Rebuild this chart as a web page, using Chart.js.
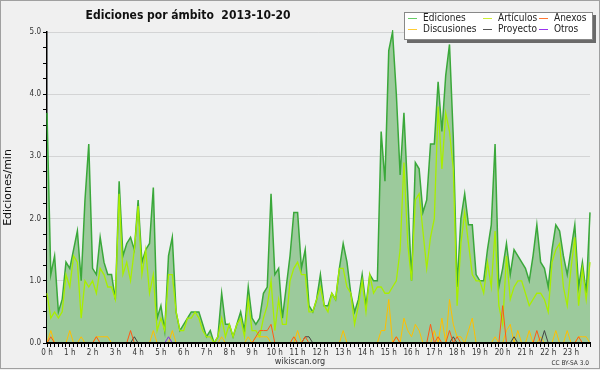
<!DOCTYPE html>
<html>
<head>
<meta charset="utf-8">
<script src="https://cdn.jsdelivr.net/npm/chart.js@4.4.0/dist/chart.umd.min.js"></script>
<style>
  body { margin: 0; background: #f0f0f0; }
  #wrap { width: 600px; height: 370px; }
</style>
</head>
<body>
<div id="wrap"><canvas id="myChart" width="600" height="370"></canvas></div>
<script>
// Ediciones por ámbito - 2013-10-20, one value every 10 minutes (edits/min)

const ediciones = [
  3.7, 1.1, 1.4, 0.5, 0.7, 1.3, 1.2, 1.5, 1.8, 1.0,
  2.3, 3.2, 1.2, 1.1, 1.7, 1.3, 1.1, 1.1, 0.7, 2.6,
  1.4, 1.6, 1.7, 1.5, 2.3, 1.3, 1.5, 1.6, 2.5, 0.4,
  0.6, 0.2, 1.4, 1.7, 0.5, 0.2, 0.3, 0.4, 0.5, 0.5,
  0.5, 0.3, 0.1, 0.2, 0.0, 0.1, 0.8, 0.3, 0.3, 0.1,
  0.3, 0.5, 0.2, 0.9, 0.4, 0.3, 0.4, 0.8, 0.9, 2.4,
  1.1, 1.2, 0.4, 0.9, 1.4, 2.1, 2.1, 1.2, 1.5, 0.6,
  0.5, 0.7, 1.1, 0.6, 0.6, 0.8, 0.7, 1.2, 1.6, 1.3,
  0.8, 0.5, 0.7, 1.1, 0.6, 1.1, 1.0, 1.0, 3.4, 2.6,
  4.7, 5.0, 4.0, 2.7, 3.7, 2.4, 1.0, 2.9, 2.8, 2.1,
  2.3, 3.2, 3.2, 4.2, 3.4, 4.3, 4.8, 3.3, 0.9, 2.0,
  2.4, 1.9, 1.9, 1.1, 1.0, 1.0, 1.5, 1.9, 3.2, 0.9,
  1.2, 1.6, 1.1, 1.5, 1.4, 1.3, 1.2, 1.0, 1.4, 1.9,
  1.3, 1.2, 0.9, 1.5, 1.9, 1.8, 1.4, 1.1, 1.5, 1.9,
  0.9, 1.3, 0.8, 2.1
];

const articulos = [
  0.8, 0.4, 0.5, 0.4, 0.5, 1.1, 0.9, 1.4, 1.3, 0.4,
  1.0, 0.9, 1.0, 0.8, 1.2, 1.1, 0.9, 0.9, 0.7, 2.4,
  1.1, 1.3, 1.0, 1.5, 2.2, 1.1, 1.5, 0.8, 1.1, 0.2,
  0.4, 0.2, 1.1, 1.1, 0.5, 0.2, 0.2, 0.4, 0.4, 0.5,
  0.4, 0.2, 0.1, 0.1, 0.0, 0.1, 0.4, 0.1, 0.3, 0.1,
  0.3, 0.4, 0.1, 0.7, 0.2, 0.2, 0.1, 0.4, 0.6, 1.0,
  0.2, 0.7, 0.3, 0.3, 1.0, 1.2, 1.3, 1.1, 1.1, 0.5,
  0.5, 0.7, 0.9, 0.6, 0.5, 0.8, 0.7, 1.2, 1.2, 0.9,
  0.8, 0.3, 0.6, 1.0, 0.5, 1.1, 0.8, 0.9, 0.9, 0.8,
  0.8, 0.9, 1.0, 1.5, 2.9, 1.6, 1.0, 2.3, 2.4, 1.8,
  1.2, 1.7, 2.0, 3.8, 2.8, 3.7, 3.4, 2.8, 0.6, 1.6,
  2.1, 1.6, 1.1, 1.0, 1.0, 0.8, 1.3, 0.9, 1.8, 0.6,
  0.3, 1.4, 0.7, 0.9, 1.0, 1.0, 0.8, 0.6, 0.7, 0.8,
  0.8, 0.7, 0.5, 1.3, 1.5, 1.6, 0.9, 0.6, 1.2, 1.7,
  0.6, 1.2, 0.7, 1.3
];

const anexos = [
  0, 0.1, 0, 0, 0, 0, 0, 0, 0, 0,
  0, 0, 0, 0.1, 0, 0, 0, 0, 0, 0,
  0, 0, 0.2, 0, 0, 0, 0, 0, 0, 0,
  0, 0, 0, 0, 0, 0, 0, 0, 0, 0,
  0, 0, 0, 0, 0, 0, 0, 0, 0, 0,
  0, 0, 0, 0, 0, 0.1, 0.2, 0.2, 0.2, 0.3,
  0, 0, 0, 0, 0, 0.1, 0, 0, 0.1, 0,
  0, 0, 0, 0, 0, 0, 0, 0, 0, 0,
  0, 0, 0, 0, 0, 0, 0, 0, 0, 0,
  0, 0, 0.1, 0, 0, 0, 0, 0, 0, 0,
  0, 0.3, 0, 0.1, 0, 0, 0.2, 0, 0.1, 0,
  0, 0, 0, 0, 0, 0, 0, 0, 0, 0,
  0.6, 0, 0, 0, 0, 0, 0, 0, 0, 0.2,
  0, 0, 0, 0, 0, 0, 0, 0, 0, 0,
  0.1, 0, 0, 0
];

const discusiones = [
  0, 0.2, 0, 0, 0, 0, 0.2, 0, 0, 0.1,
  0, 0, 0, 0.1, 0.1, 0.1, 0.1, 0, 0, 0,
  0, 0, 0, 0, 0, 0, 0, 0, 0.2, 0,
  0, 0, 0, 0.2, 0, 0, 0, 0, 0, 0,
  0, 0, 0, 0, 0, 0, 0.1, 0, 0, 0,
  0, 0, 0, 0.1, 0, 0.1, 0.1, 0.1, 0.1, 0,
  0, 0, 0, 0, 0, 0, 0.2, 0, 0, 0,
  0, 0, 0, 0, 0, 0, 0, 0, 0.2, 0,
  0, 0, 0, 0, 0, 0, 0, 0, 0.2, 0.2,
  0.7, 0, 0.1, 0, 0.4, 0.2, 0.1, 0.3, 0.2, 0,
  0, 0, 0.2, 0, 0.4, 0, 0.7, 0.3, 0.1, 0.1,
  0, 0.2, 0.4, 0, 0, 0, 0, 0, 0.1, 0,
  0, 0.2, 0.3, 0, 0.2, 0, 0, 0.2, 0, 0,
  0.1, 0, 0, 0, 0.2, 0, 0, 0.2, 0, 0,
  0.1, 0.1, 0.1, 0
];

const proyecto = [
  0, 0, 0, 0, 0, 0, 0, 0, 0, 0,
  0, 0, 0, 0, 0, 0, 0, 0, 0, 0,
  0, 0, 0, 0.1, 0, 0, 0, 0, 0, 0,
  0, 0, 0, 0, 0, 0, 0, 0, 0, 0,
  0, 0, 0, 0, 0, 0, 0, 0, 0, 0,
  0, 0, 0, 0, 0, 0, 0, 0, 0, 0,
  0, 0, 0, 0, 0, 0, 0, 0, 0.1, 0.1,
  0, 0, 0, 0, 0, 0, 0, 0, 0, 0,
  0, 0, 0, 0, 0, 0, 0, 0, 0, 0,
  0, 0, 0, 0, 0, 0, 0, 0, 0, 0,
  0, 0, 0, 0, 0, 0, 0, 0.1, 0, 0,
  0, 0, 0, 0, 0, 0, 0, 0, 0, 0,
  0, 0, 0, 0.1, 0, 0, 0, 0, 0, 0,
  0, 0.2, 0, 0, 0, 0, 0, 0, 0, 0,
  0, 0, 0, 0
];

const otros = [
  0, 0, 0, 0, 0, 0, 0, 0, 0, 0,
  0, 0, 0, 0, 0, 0, 0, 0, 0, 0,
  0, 0, 0, 0, 0, 0, 0, 0, 0, 0,
  0, 0, 0.1, 0, 0, 0, 0, 0, 0, 0,
  0, 0, 0, 0, 0, 0, 0, 0, 0, 0,
  0, 0, 0, 0, 0, 0, 0, 0, 0, 0,
  0, 0, 0, 0, 0, 0, 0, 0, 0, 0,
  0, 0, 0, 0, 0, 0, 0, 0, 0, 0,
  0, 0, 0, 0, 0, 0, 0, 0, 0, 0,
  0, 0, 0, 0, 0, 0, 0, 0, 0, 0,
  0, 0, 0, 0, 0, 0, 0, 0, 0, 0,
  0, 0, 0, 0, 0, 0, 0, 0, 0, 0,
  0, 0, 0, 0, 0, 0, 0, 0, 0, 0,
  0, 0, 0, 0, 0, 0, 0, 0, 0, 0,
  0, 0, 0, 0
];

// x-axis categories: 00:00, 00:10, ... 23:50
const horas = [];
for (let h = 0; h < 24; h++) {
    for (let m = 0; m < 60; m += 10) {
        horas.push(String(h).padStart(2, '0') + ':' + String(m).padStart(2, '0'));
    }
}

const titulo = 'Ediciones por ámbito  2013-10-20';
const ejeY = 'Ediciones/min';
const fuente = 'wikiscan.org';
const licencia = 'CC BY-SA 3.0';

const familia = '"DejaVu Sans Condensed", "DejaVu Sans", sans-serif';

// background, frame, title, footer and the boxed legend
const marco = {
    id: 'marco',
    beforeDraw(chart) {
        const {ctx, chartArea: a} = chart;
        ctx.save();
        ctx.fillStyle = '#f0f0f0';
        ctx.fillRect(0, 0, chart.width, chart.height);
        ctx.fillStyle = '#eef0f1';
        ctx.fillRect(a.left, a.top, a.right - a.left, a.bottom - a.top);
        ctx.strokeStyle = '#a0a0a0';
        ctx.lineWidth = 1;
        ctx.strokeRect(0.5, 0.5, chart.width - 1, chart.height - 2);
        ctx.restore();
    },
    afterDraw(chart) {
        const ctx = chart.ctx;
        ctx.save();
        // title
        ctx.fillStyle = '#111';
        ctx.font = 'bold 12px ' + familia;
        ctx.textAlign = 'center';
        ctx.textBaseline = 'alphabetic';
        ctx.fillText(titulo, 188, 19);
        // footer
        ctx.fillStyle = '#333';
        ctx.font = '9px ' + familia;
        ctx.fillText(fuente, 300, 364);
        ctx.font = '6.5px ' + familia;
        ctx.textAlign = 'right';
        ctx.fillText(licencia, 589, 365);

        // legend box with shadow
        ctx.fillStyle = '#6a6a6a';
        ctx.fillRect(407, 15, 189, 28);
        ctx.fillStyle = '#fff';
        ctx.fillRect(404, 12, 189, 28);
        ctx.strokeStyle = '#888';
        ctx.strokeRect(404.5, 12.5, 188, 27);

        const cols = [408, 483, 539];   // swatch x per column
        const rows = [18.5, 29.5];      // line y per row
        const orden = ['Ediciones', 'Artículos', 'Anexos', 'Discusiones', 'Proyecto', 'Otros'];
        ctx.font = '10px ' + familia;
        ctx.textAlign = 'left';
        ctx.textBaseline = 'middle';
        orden.forEach((nombre, k) => {
            const ds = chart.data.datasets.find(d => d.label === nombre);
            const x = cols[k % 3];
            const y = rows[Math.floor(k / 3)];
            ctx.strokeStyle = ds.legendColor;
            ctx.lineWidth = 1;
            ctx.beginPath();
            ctx.moveTo(x, y);
            ctx.lineTo(x + 9, y);
            ctx.stroke();
            ctx.fillStyle = '#222';
            ctx.fillText(nombre, x + 15, y);
        });
        ctx.restore();
    }
};

const ctx = document.getElementById('myChart');
const myChart = new Chart(ctx, {
    type: 'line',
    data: {
        labels: horas,
        datasets: [
            {
                label: 'Ediciones',
                data: ediciones,
                borderColor: '#3aa83a',
                backgroundColor: '#9cca9c',
                legendColor: '#6c6',
                fill: 'origin',
                borderWidth: 1.5,
                order: 6
            },
            {
                label: 'Artículos',
                data: articulos,
                borderColor: '#a8ee00',
                legendColor: '#ce3',
                borderWidth: 1.3,
                order: 5
            },
            {
                label: 'Discusiones',
                data: discusiones,
                borderColor: '#ffbf00',
                legendColor: '#fc3',
                borderWidth: 1,
                order: 4
            },
            {
                label: 'Proyecto',
                data: proyecto,
                borderColor: '#444',
                legendColor: '#555',
                borderWidth: 1,
                order: 3
            },
            {
                label: 'Anexos',
                data: anexos,
                borderColor: '#ff5a14',
                legendColor: '#f73',
                borderWidth: 1,
                order: 2
            },
            {
                label: 'Otros',
                data: otros,
                borderColor: '#8a2be2',
                legendColor: '#93e',
                borderWidth: 1,
                order: 1
            }
        ]
    },
    options: {
        responsive: false,
        animation: false,
        layout: {
            padding: {top: 32, right: 10, bottom: 0, left: 0}
        },
        datasets: {
            line: {
                clip: {left: 2, top: 2, right: 2, bottom: -1}   // zero runs hide under the axis
            }
        },
        elements: {
            point: {radius: 0},
            line: {tension: 0, fill: false}
        },
        scales: {
            x: {
                z: 1,                                   // axis drawn over the data
                afterFit: scale => { scale.height = 27; },
                border: {color: '#000', width: 2},
                grid: {drawOnChartArea: false, tickColor: '#000', tickLength: 4},
                ticks: {
                    autoSkip: false,
                    maxRotation: 0,
                    padding: 1,
                    color: '#333',
                    font: {family: familia, size: 8},
                    callback: function(val, index) {
                        return index % 6 === 0 ? (index / 6) + ' h' : '';   // hour labels only
                    }
                }
            },
            y: {
                z: 1,                                   // grid visible through the fill
                min: 0,
                max: 5,
                afterFit: scale => { scale.width = 47; },
                border: {color: '#000', width: 1.5},
                grid: {
                    color: c => (c.tick && c.tick.value % 1 === 0) ? 'rgba(190,190,190,0.55)' : 'rgba(0,0,0,0)',
                    tickColor: '#000',
                    tickLength: 4
                },
                ticks: {
                    stepSize: 0.25,
                    autoSkip: false,
                    padding: 2,
                    color: '#333',
                    font: {family: familia, size: 8},
                    callback: v => v % 1 === 0 ? v.toFixed(1) : ''
                },
                title: {
                    display: true,
                    text: ejeY,
                    color: '#111',
                    font: {family: '"DejaVu Sans", sans-serif', size: 11},
                    padding: {top: 2, bottom: 0}
                }
            }
        },
        plugins: {
            legend: {display: false},
            tooltip: {enabled: false}
        }
    },
    plugins: [marco]
});
</script>
</body>
</html>
